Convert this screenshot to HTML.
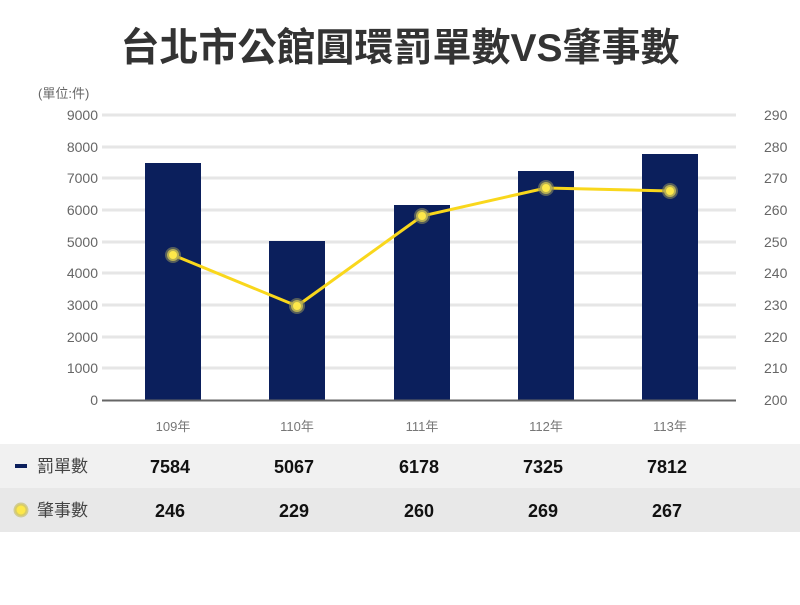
<!DOCTYPE html>
<html><head><meta charset="utf-8"><style>
body{margin:0;background:#fff;width:800px;height:600px;overflow:hidden;font-family:"Liberation Sans","Noto Sans CJK TC",sans-serif}
</style></head><body>
<svg width="800" height="600" xmlns="http://www.w3.org/2000/svg" font-family="Liberation Sans, Noto Sans CJK TC, sans-serif">
<text x="400" y="61" text-anchor="middle" font-size="39" font-weight="bold" fill="#333">台北市公館圓環罰單數VS肇事數</text>
<text x="38" y="98" font-size="13" fill="#666">(單位:件)</text>
<g stroke="#e6e6e6" stroke-width="3">
<line x1="102" x2="736" y1="115" y2="115"/><line x1="102" x2="736" y1="147" y2="147"/><line x1="102" x2="736" y1="178" y2="178"/><line x1="102" x2="736" y1="210" y2="210"/><line x1="102" x2="736" y1="242" y2="242"/><line x1="102" x2="736" y1="273" y2="273"/><line x1="102" x2="736" y1="305" y2="305"/><line x1="102" x2="736" y1="337" y2="337"/><line x1="102" x2="736" y1="368" y2="368"/>
</g>
<g font-size="14" fill="#666" text-anchor="end">
<text x="98" y="120">9000</text><text x="98" y="152">8000</text><text x="98" y="183">7000</text><text x="98" y="215">6000</text><text x="98" y="247">5000</text><text x="98" y="278">4000</text><text x="98" y="310">3000</text><text x="98" y="342">2000</text><text x="98" y="373">1000</text><text x="98" y="405">0</text>
</g>
<g font-size="14" fill="#666">
<text x="764" y="120">290</text><text x="764" y="152">280</text><text x="764" y="183">270</text><text x="764" y="215">260</text><text x="764" y="247">250</text><text x="764" y="278">240</text><text x="764" y="310">230</text><text x="764" y="342">220</text><text x="764" y="373">210</text><text x="764" y="405">200</text>
</g>
<g fill="#0b1f5c">
<rect x="145" y="163" width="56" height="237"/>
<rect x="269" y="241" width="56" height="159"/>
<rect x="394" y="205" width="56" height="195"/>
<rect x="518" y="171" width="56" height="229"/>
<rect x="642" y="154" width="56" height="246"/>
</g>
<line x1="102" x2="736" y1="400.5" y2="400.5" stroke="#666" stroke-width="2"/>
<polyline points="173,255 297,306 422,216 546,188 670,191" fill="none" stroke="#f9d71c" stroke-width="3"/>
<g fill="#fde84a" stroke="#8a8a5a" stroke-opacity="0.6" stroke-width="4">
<circle cx="173" cy="255" r="6"/><circle cx="297" cy="306" r="6"/><circle cx="422" cy="216" r="6"/><circle cx="546" cy="188" r="6"/><circle cx="670" cy="191" r="6"/>
</g>
<g font-size="13" fill="#777" text-anchor="middle">
<text x="173" y="431">109年</text><text x="297" y="431">110年</text><text x="422" y="431">111年</text><text x="546" y="431">112年</text><text x="670" y="431">113年</text>
</g>
<rect x="0" y="444" width="800" height="44" fill="#f1f1f1"/>
<rect x="0" y="488" width="800" height="44" fill="#e8e8e8"/>
<rect x="15" y="464" width="12" height="4" fill="#0b1f5c"/>
<circle cx="21" cy="510" r="6" fill="#fde84a" stroke="#c8c070" stroke-opacity="0.7" stroke-width="3"/>
<g font-size="17" fill="#444"><text x="37" y="472">罰單數</text><text x="37" y="516">肇事數</text></g>
<g font-size="18" font-weight="bold" fill="#111" text-anchor="middle">
<text x="170" y="473">7584</text><text x="294" y="473">5067</text><text x="419" y="473">6178</text><text x="543" y="473">7325</text><text x="667" y="473">7812</text>
<text x="170" y="517">246</text><text x="294" y="517">229</text><text x="419" y="517">260</text><text x="543" y="517">269</text><text x="667" y="517">267</text>
</g>
</svg>
</body></html>
